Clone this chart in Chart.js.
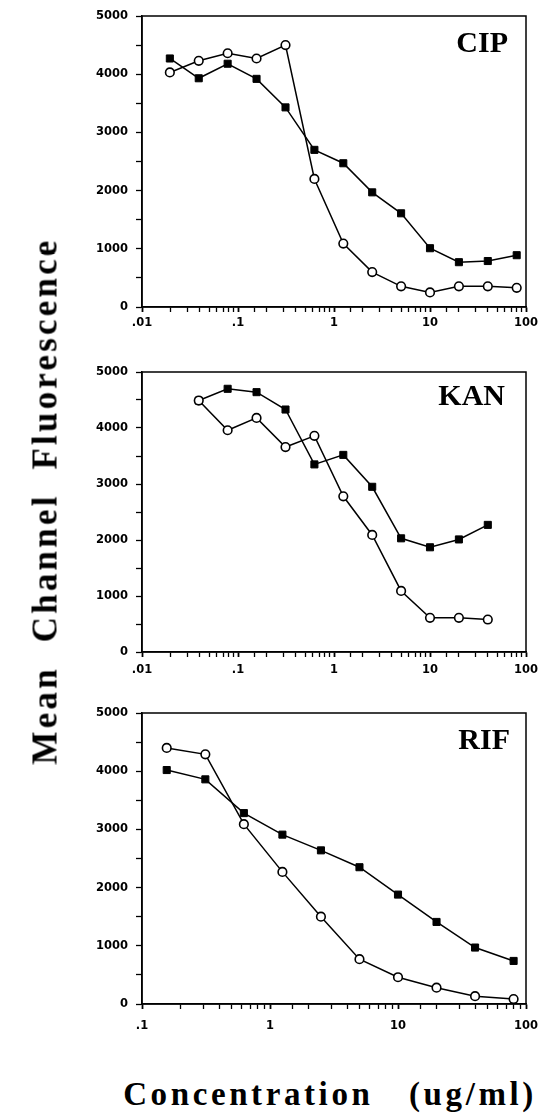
<!DOCTYPE html>
<html>
<head>
<meta charset="utf-8">
<script src="https://cdn.jsdelivr.net/npm/chart.js@4/dist/chart.umd.min.js"></script>
<style>
  html, body { margin: 0; padding: 0; background: #fff; }
  body { width: 538px; height: 1118px; position: relative; overflow: hidden; }
  canvas { position: absolute; left: 0; }
  .serif { position: absolute; font-family: "Liberation Serif", serif; font-weight: bold; color: #000; white-space: pre; line-height: 1; }
  .panel-label { font-size: 30px; }
  #yTitle { font-size: 35px; letter-spacing: 3.2px; left: 45px; top: 501px; transform: translate(-50%, -50%) rotate(-90deg); }
  #xTitle { font-size: 33px; letter-spacing: 3.6px; left: 330px; top: 1094px; transform: translate(-50%, -50%); }
</style>
</head>
<body>
<canvas id="cipChart" width="538" height="340" style="top:0px"></canvas>
<canvas id="kanChart" width="538" height="340" style="top:345px"></canvas>
<canvas id="rifChart" width="538" height="350" style="top:690px"></canvas>

<div class="serif panel-label" style="right:30px; top:27px">CIP</div>
<div class="serif panel-label" style="right:33px; top:380px">KAN</div>
<div class="serif panel-label" style="right:28px; top:724px">RIF</div>
<div class="serif" id="yTitle">Mean  Channel  Fluorescence</div>
<div class="serif" id="xTitle">Concentration   (ug/ml)</div>

<script>
// concentrations are twofold dilutions (ug/ml)
const cipConc = [0.0195, 0.039, 0.078, 0.156, 0.3125, 0.625, 1.25, 2.5, 5, 10, 20, 40, 80];
const cipOpen = [4030, 4230, 4360, 4270, 4500, 2200, 1090, 600, 355, 250, 355, 355, 330];
const cipFilled = [4270, 3930, 4180, 3920, 3430, 2700, 2470, 1970, 1610, 1010, 770, 790, 890];

const kanConc = [0.039, 0.078, 0.156, 0.3125, 0.625, 1.25, 2.5, 5, 10, 20, 40];
const kanOpen = [4490, 3960, 4180, 3660, 3860, 2780, 2090, 1090, 610, 610, 580];
const kanFilled = [4490, 4700, 4640, 4330, 3350, 3520, 2950, 2030, 1870, 2010, 2270];

const rifConc = [0.156, 0.3125, 0.625, 1.25, 2.5, 5, 10, 20, 40, 80];
const rifOpen = [4400, 4290, 3090, 2270, 1500, 770, 460, 280, 135, 85];
const rifFilled = [4020, 3860, 3280, 2910, 2640, 2350, 1880, 1410, 970, 740];

const yMax = 5000;
const yStep = 500;

const tickFont = { family: '"DejaVu Sans", sans-serif', size: 11.5, weight: 'bold' };

function isDecade(v) {
  const l = Math.log10(v);
  return Math.abs(l - Math.round(l)) < 1e-6;
}

function decadeLabel(v) {
  if (!isDecade(v)) return '';
  return v < 1 ? String(+v.toFixed(4)).replace(/^0/, '') : String(Math.round(v));
}

const framePlugin = {
  id: 'frame',
  afterDatasetsDraw(chart) {
    const { ctx, chartArea: a } = chart;
    ctx.save();
    ctx.strokeStyle = '#000';
    ctx.lineWidth = 1.5;
    ctx.strokeRect(a.left, a.top, a.right - a.left, a.bottom - a.top);
    ctx.restore();
  },
};

function makePanel(id, conc, openVals, filledVals, xMin, opts) {
  const toPoints = (vals) => vals.map((y, i) => ({ x: conc[i], y }));
  new Chart(document.getElementById(id), {
    type: 'line',
    data: {
      datasets: [
        {
          label: 'open',
          data: toPoints(openVals),
          borderColor: '#000',
          borderWidth: 1.5,
          pointStyle: 'circle',
          pointRadius: 4.3,
          pointBorderWidth: 1.6,
          pointBackgroundColor: '#fff',
          pointBorderColor: '#000',
          tension: 0,
        },
        {
          label: 'filled',
          data: toPoints(filledVals),
          borderColor: '#000',
          borderWidth: 1.5,
          pointStyle: 'rect',
          pointRadius: 5,
          pointBorderWidth: 1,
          pointBackgroundColor: '#000',
          pointBorderColor: '#000',
          tension: 0,
        },
      ],
    },
    options: {
      responsive: false,
      animation: false,
      devicePixelRatio: 1,
      layout: { padding: { top: opts.padTop, right: 12, left: 0, bottom: 0 } },
      plugins: { legend: { display: false }, tooltip: { enabled: false } },
      scales: {
        x: {
          type: 'logarithmic',
          min: xMin,
          max: 100,
          afterFit: (scale) => {
            scale.height = opts.xHeight;
            scale.paddingLeft = 0;
            scale.paddingRight = 0;
          },
          border: { display: true, color: '#000', width: 1.5 },
          grid: {
            drawOnChartArea: false,
            drawTicks: true,
            tickLength: 5,
            tickColor: '#000',
            tickWidth: (c) => (c.tick && isDecade(c.tick.value) ? 1.8 : 1.3),
          },
          ticks: {
            autoSkip: false,
            maxRotation: 0,
            minRotation: 0,
            padding: opts.xPad,
            color: '#000',
            font: tickFont,
            callback: (value) => decadeLabel(value),
          },
        },
        y: {
          type: 'linear',
          min: 0,
          max: yMax,
          afterFit: (scale) => {
            scale.width = 142;
            scale.paddingTop = 0;
            scale.paddingBottom = 0;
          },
          border: { display: true, color: '#000', width: 1.5 },
          grid: {
            drawOnChartArea: false,
            drawTicks: true,
            tickLength: 6,
            tickColor: '#000',
            tickWidth: 1.3,
          },
          ticks: {
            stepSize: yStep,
            padding: 8,
            color: '#000',
            font: tickFont,
            callback: (value) => (value % 1000 === 0 ? String(value) : ''),
          },
        },
      },
    },
    plugins: [framePlugin],
  });
}

makePanel('cipChart', cipConc, cipOpen, cipFilled, 0.01, { padTop: 16, xHeight: 33, xPad: 4 });
makePanel('kanChart', kanConc, kanOpen, kanFilled, 0.01, { padTop: 27, xHeight: 33, xPad: 6 });
makePanel('rifChart', rifConc, rifOpen, rifFilled, 0.1, { padTop: 23, xHeight: 36, xPad: 10 });
</script>
</body>
</html>
